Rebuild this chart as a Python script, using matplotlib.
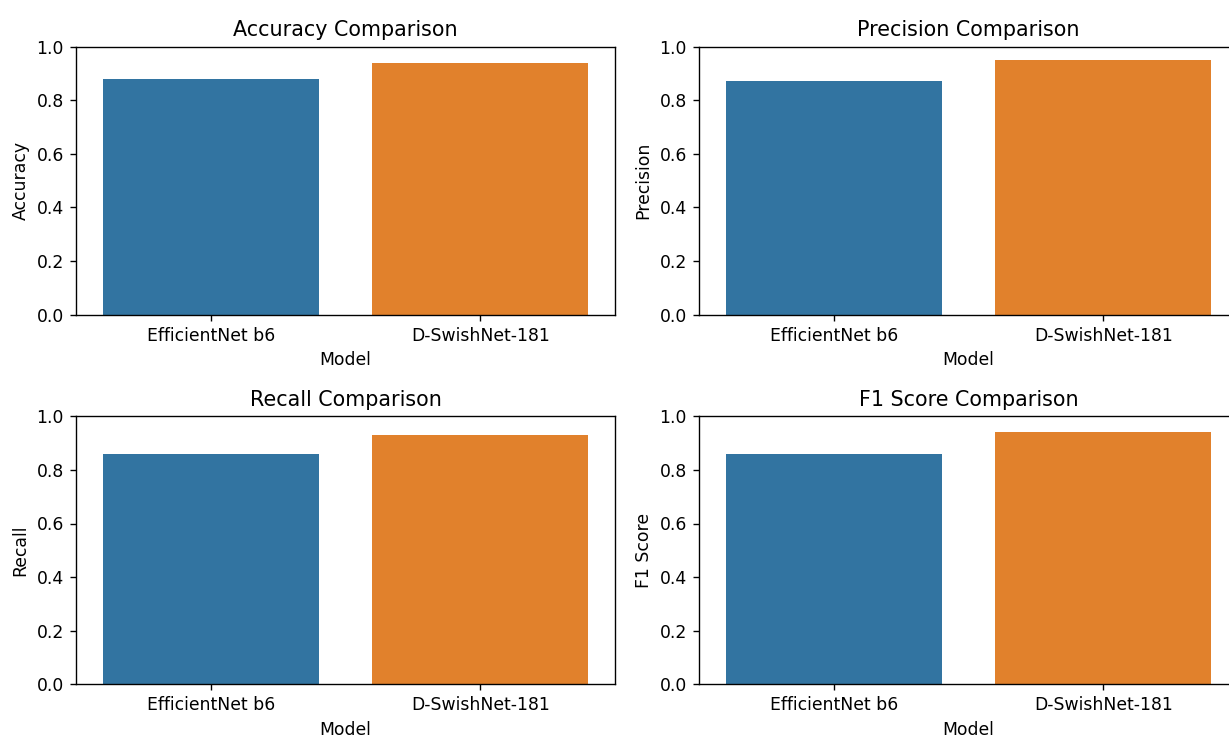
import matplotlib
matplotlib.use("Agg")
import matplotlib.pyplot as plt
import seaborn as sns
import pandas as pd

models = ["EfficientNet b6", "D-SwishNet-181"]
accuracy = [0.88, 0.94]
precision = [0.87, 0.95]
recall = [0.86, 0.93]
f1_score = [0.86, 0.94]

metrics = [
    ("Accuracy", accuracy),
    ("Precision", precision),
    ("Recall", recall),
    ("F1 Score", f1_score),
]

W, H = 1229, 736
DPI = 124
fig = plt.figure(figsize=(W / DPI, H / DPI), dpi=DPI)

# axes boxes in pixels: (left, top, width, height)
boxes = [
    (76, 46.5, 539, 268),
    (699, 46.5, 539, 268),
    (76, 416.3, 539, 268),
    (699, 416.3, 539, 268),
]

for (name, vals), (l, t, w, h) in zip(metrics, boxes):
    ax = fig.add_axes([l / W, (H - t - h) / H, w / W, h / H])
    df = pd.DataFrame({"Model": models, name: vals})
    sns.barplot(data=df, x="Model", y=name, hue="Model", legend=False, ax=ax)
    ax.set_ylim(0, 1.0)
    ax.set_title(f"{name} Comparison", fontsize=12)

fig.savefig("out.png", dpi=DPI)
